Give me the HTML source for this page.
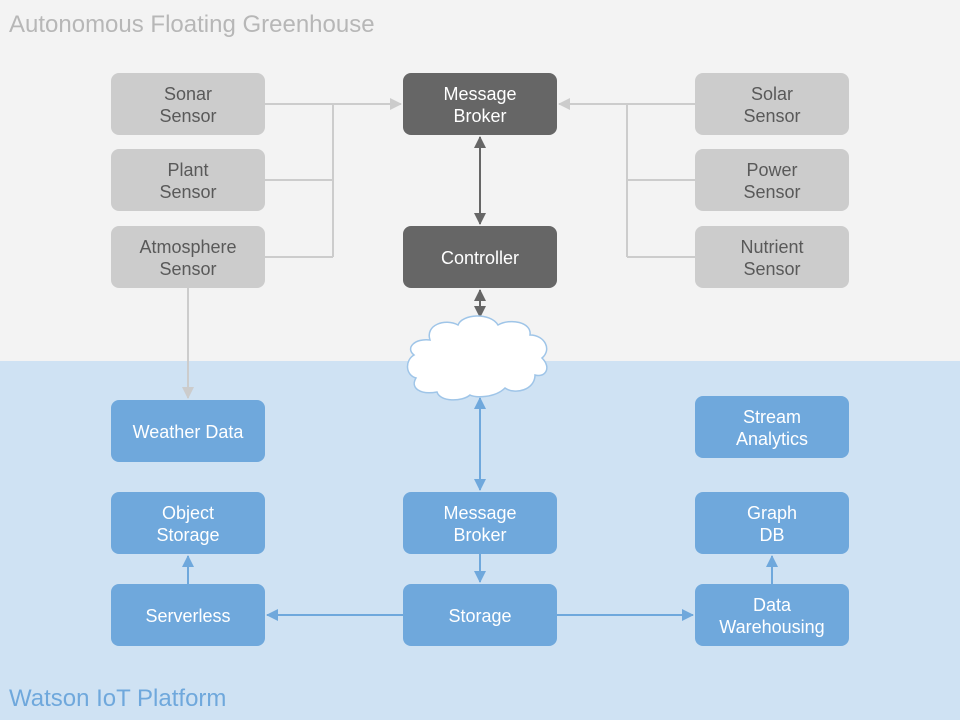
<!DOCTYPE html>
<html><head><meta charset="utf-8"><style>
html,body{margin:0;padding:0;width:960px;height:720px;overflow:hidden}
text{font-family:"Liberation Sans",Arial,sans-serif}
</style></head><body>
<svg width="960" height="720" viewBox="0 0 960 720" xmlns="http://www.w3.org/2000/svg">
<defs>
<marker id="ag" markerWidth="12" markerHeight="12" refX="11" refY="6" orient="auto-start-reverse" markerUnits="userSpaceOnUse"><path d="M0,0 L12,6 L0,12 z" fill="#cccccc"/></marker>
<marker id="ad" markerWidth="12" markerHeight="12" refX="11" refY="6" orient="auto-start-reverse" markerUnits="userSpaceOnUse"><path d="M0,0 L12,6 L0,12 z" fill="#666666"/></marker>
<marker id="ab" markerWidth="12" markerHeight="12" refX="11" refY="6" orient="auto-start-reverse" markerUnits="userSpaceOnUse"><path d="M0,0 L12,6 L0,12 z" fill="#6fa8dc"/></marker>
</defs>
<rect x="0" y="0" width="960" height="361" fill="#f3f3f3"/>
<rect x="0" y="361" width="960" height="359" fill="#cfe2f3"/>
<text x="9" y="32" font-size="24" fill="#b7b7b7">Autonomous Floating Greenhouse</text>
<text x="9" y="706" font-size="24" fill="#6fa8dc">Watson IoT Platform</text>

<g stroke="#cccccc" stroke-width="2" fill="none">
<path d="M265,104 H401" marker-end="url(#ag)"/>
<path d="M265,180 H333 M265,257 H333 M333,104 V257"/>
<path d="M695,104 H559" marker-end="url(#ag)"/>
<path d="M695,180 H627 M695,257 H627 M627,104 V257"/>
<path d="M188,288 V398" marker-end="url(#ag)"/>
</g>
<g stroke="#666666" stroke-width="2" fill="none">
<path d="M480,137 V224" marker-start="url(#ad)" marker-end="url(#ad)"/>
<path d="M480,290 V317" marker-start="url(#ad)" marker-end="url(#ad)"/>
</g>
<g stroke="#6fa8dc" stroke-width="2" fill="none">
<path d="M480,398 V490" marker-start="url(#ab)" marker-end="url(#ab)"/>
<path d="M480,554 V582" marker-end="url(#ab)"/>
<path d="M403,615 H267" marker-end="url(#ab)"/>
<path d="M557,615 H693" marker-end="url(#ab)"/>
<path d="M188,584 V556" marker-end="url(#ab)"/>
<path d="M772,584 V556" marker-end="url(#ab)"/>
</g>

<path d="M430,340 C425,325 445,318 458,325 C462,314 490,312 498,325 C510,318 532,322 530,335 C545,335 552,350 542,358 C552,368 545,378 535,375 C535,390 515,395 505,388 C495,398 475,398 470,395 C462,402 440,402 437,392 C420,395 410,388 416,378 C405,375 405,360 414,355 C405,348 415,338 430,340 Z" fill="#ffffff" stroke="#9fc5e8" stroke-width="1.5"/>

<g font-size="18" text-anchor="middle">
<g fill="#cccccc">
<rect x="111" y="73" width="154" height="62" rx="8"/>
<rect x="111" y="149" width="154" height="62" rx="8"/>
<rect x="111" y="226" width="154" height="62" rx="8"/>
<rect x="695" y="73" width="154" height="62" rx="8"/>
<rect x="695" y="149" width="154" height="62" rx="8"/>
<rect x="695" y="226" width="154" height="62" rx="8"/>
</g>
<g fill="#595959">
<text x="188" y="100">Sonar</text><text x="188" y="122">Sensor</text>
<text x="188" y="176">Plant</text><text x="188" y="198">Sensor</text>
<text x="188" y="253">Atmosphere</text><text x="188" y="275">Sensor</text>
<text x="772" y="100">Solar</text><text x="772" y="122">Sensor</text>
<text x="772" y="176">Power</text><text x="772" y="198">Sensor</text>
<text x="772" y="253">Nutrient</text><text x="772" y="275">Sensor</text>
</g>
<g fill="#666666">
<rect x="403" y="73" width="154" height="62" rx="8"/>
<rect x="403" y="226" width="154" height="62" rx="8"/>
</g>
<g fill="#ffffff">
<text x="480" y="100">Message</text><text x="480" y="122">Broker</text>
<text x="480" y="264">Controller</text>
</g>
<g fill="#6fa8dc">
<rect x="111" y="400" width="154" height="62" rx="8"/>
<rect x="695" y="396" width="154" height="62" rx="8"/>
<rect x="111" y="492" width="154" height="62" rx="8"/>
<rect x="403" y="492" width="154" height="62" rx="8"/>
<rect x="695" y="492" width="154" height="62" rx="8"/>
<rect x="111" y="584" width="154" height="62" rx="8"/>
<rect x="403" y="584" width="154" height="62" rx="8"/>
<rect x="695" y="584" width="154" height="62" rx="8"/>
</g>
<g fill="#ffffff">
<text x="188" y="438">Weather Data</text>
<text x="772" y="423">Stream</text><text x="772" y="445">Analytics</text>
<text x="188" y="519">Object</text><text x="188" y="541">Storage</text>
<text x="480" y="519">Message</text><text x="480" y="541">Broker</text>
<text x="772" y="519">Graph</text><text x="772" y="541">DB</text>
<text x="188" y="622">Serverless</text>
<text x="480" y="622">Storage</text>
<text x="772" y="611">Data</text><text x="772" y="633">Warehousing</text>
</g>
</g>
</svg>
</body></html>
